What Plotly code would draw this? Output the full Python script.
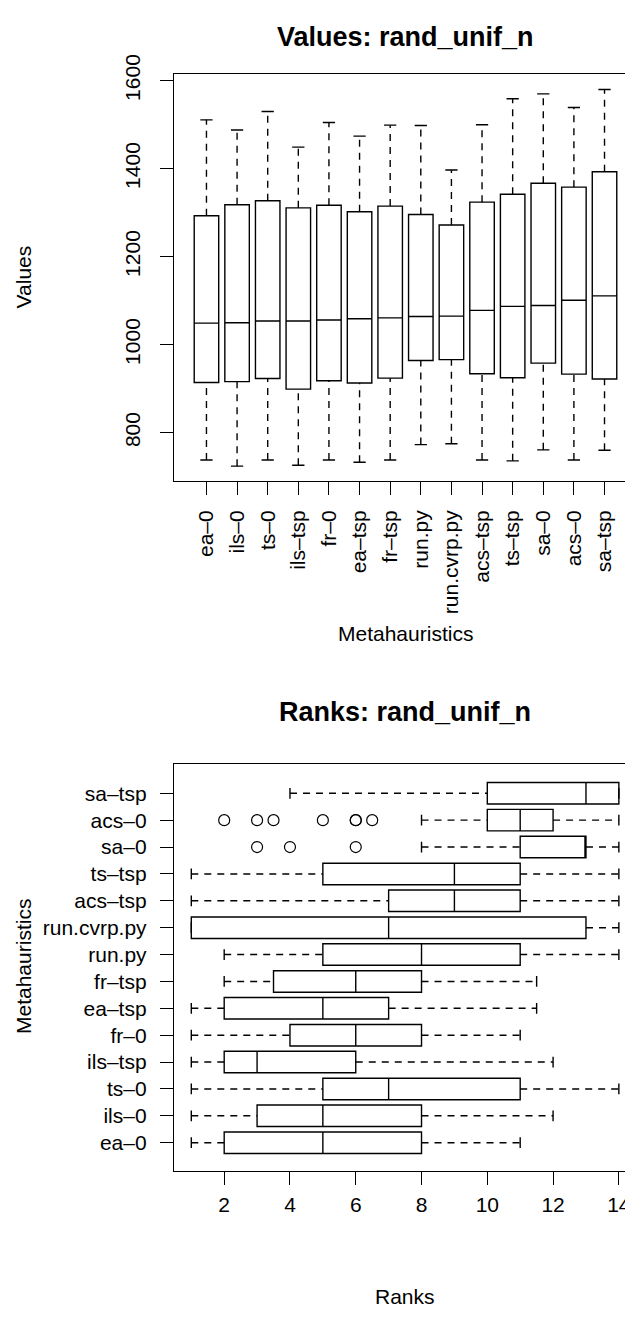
import plotly.graph_objects as go

# page is offset by the browser's default 8px body margin
OFF = 8
PAGE_W, PAGE_H = 633, 1337
W, H = PAGE_W - OFF, PAGE_H - OFF

methods = ["ea-0", "ils-0", "ts-0", "ils-tsp", "fr-0", "ea-tsp", "fr-tsp",
           "run.py", "run.cvrp.py", "acs-tsp", "ts-tsp", "sa-0", "acs-0", "sa-tsp"]

# Values panel
val_lower = [738, 724, 738, 726, 738, 733, 738, 773, 775, 738, 736, 761, 738, 760]
val_q1 = [914, 916, 923, 899, 918, 913, 924, 964, 966, 934, 925, 958, 933, 922]
val_median = [1049, 1050, 1054, 1054, 1056, 1059, 1061, 1064, 1065, 1078, 1087, 1089, 1101, 1111]
val_q3 = [1293, 1318, 1327, 1311, 1317, 1302, 1315, 1296, 1272, 1324, 1342, 1367, 1358, 1393]
val_upper = [1511, 1488, 1530, 1449, 1505, 1474, 1499, 1498, 1397, 1500, 1559, 1570, 1539, 1580]
val_ticks = [800, 1000, 1200, 1400, 1600]

# Ranks panel
rank_lower = [1, 1, 1, 1, 1, 1, 2, 2, 1, 1, 1, 8, 8, 4]
rank_q1 = [2, 3, 5, 2, 4, 2, 3.5, 5, 1, 7, 5, 11, 10, 10]
rank_median = [5, 5, 7, 3, 6, 5, 6, 8, 7, 9, 9, 13, 11, 13]
rank_q3 = [8, 8, 11, 6, 8, 7, 8, 11, 13, 11, 11, 13, 12, 14]
rank_upper = [11, 12, 14, 12, 11, 11.5, 11.5, 14, 14, 14, 14, 14, 14, 14]
outlier_method = ["acs-0"] * 7 + ["sa-0"] * 3
outlier_rank = [2, 3, 3.5, 5, 6, 6, 6.5, 3, 4, 6]
rank_ticks = [2, 4, 6, 8, 10, 12, 14]

labels = [m.replace("-", "\u2013") for m in methods]
pos = list(range(1, len(methods) + 1))
FONT = "Liberation Sans, Arial, Helvetica, sans-serif"
FS = 21
LW = 1.4
BOXW = 0.8
CAP = BOXW * 0.25


def whiskers(p, lo, q1, q3, hi):
    a, b = [], []
    for pp, l, s, t, h in zip(p, lo, q1, q3, hi):
        a += [pp, pp, None, pp, pp, None]
        b += [l, s, None, t, h, None]
    return a, b


def caps(p, lo, hi):
    a, b = [], []
    for pp, l, h in zip(p, lo, hi):
        a += [pp - CAP, pp + CAP, None, pp - CAP, pp + CAP, None]
        b += [l, l, None, h, h, None]
    return a, b


fig = go.Figure()

# ---- top: values ----
wx, wy = whiskers(pos, val_lower, val_q1, val_q3, val_upper)
fig.add_trace(go.Scatter(x=wx, y=wy, mode="lines", xaxis="x", yaxis="y",
                         line=dict(color="black", width=LW, dash="7px,6px"),
                         showlegend=False, hoverinfo="skip"))
cx, cy = caps(pos, val_lower, val_upper)
fig.add_trace(go.Scatter(x=cx, y=cy, mode="lines", xaxis="x", yaxis="y",
                         line=dict(color="black", width=LW),
                         showlegend=False, hoverinfo="skip"))
fig.add_trace(go.Box(x=pos, q1=val_q1, median=val_median, q3=val_q3,
                     lowerfence=val_q1, upperfence=val_q3, width=BOXW,
                     whiskerwidth=0, fillcolor="rgba(0,0,0,0)",
                     line=dict(color="black", width=LW), xaxis="x", yaxis="y",
                     showlegend=False, hoverinfo="skip", boxpoints=False))

# ---- bottom: ranks ----
wx, wy = whiskers(pos, rank_lower, rank_q1, rank_q3, rank_upper)
fig.add_trace(go.Scatter(x=wy, y=wx, mode="lines", xaxis="x2", yaxis="y2",
                         line=dict(color="black", width=LW, dash="7px,6px"),
                         showlegend=False, hoverinfo="skip"))
cx, cy = caps(pos, rank_lower, rank_upper)
fig.add_trace(go.Scatter(x=cy, y=cx, mode="lines", xaxis="x2", yaxis="y2",
                         line=dict(color="black", width=LW),
                         showlegend=False, hoverinfo="skip"))
fig.add_trace(go.Box(y=pos, q1=rank_q1, median=rank_median, q3=rank_q3,
                     lowerfence=rank_q1, upperfence=rank_q3, width=BOXW,
                     orientation="h", whiskerwidth=0, fillcolor="rgba(0,0,0,0)",
                     line=dict(color="black", width=LW), xaxis="x2", yaxis="y2",
                     showlegend=False, hoverinfo="skip", boxpoints=False))
fig.add_trace(go.Scatter(x=outlier_rank, y=[methods.index(m) + 1 for m in outlier_method],
                         mode="markers", xaxis="x2", yaxis="y2",
                         marker=dict(symbol="circle-open", size=11, color="black",
                                     line=dict(width=1.2, color="black")),
                         showlegend=False, hoverinfo="skip"))


def fx(px):
    return (px - OFF) / W


def fy(py):
    return 1 - (py - OFF) / H


axis_common = dict(showline=True, linecolor="black", linewidth=LW, ticks="outside",
                   ticklen=13, tickwidth=LW, tickcolor="black", showgrid=False,
                   zeroline=False, tickfont=dict(family=FONT, size=FS, color="black"),
                   automargin=False, fixedrange=True)

fig.update_layout(
    width=W, height=H, margin=dict(l=0, r=0, t=0, b=0),
    paper_bgcolor="white", plot_bgcolor="white",
    font=dict(family=FONT, color="black"),
    boxmode="overlay",
    xaxis=dict(domain=[fx(174), 1], range=[-0.06, 14.93], anchor="y",
               tickmode="array", tickvals=pos, ticktext=labels, tickangle=-90,
               mirror=True, ticklabelstandoff=7, **axis_common),
    yaxis=dict(domain=[fy(480.7), fy(74)], range=[690.9, 1615.2], anchor="x",
               tickmode="array", tickvals=val_ticks, tickangle=-90,
               mirror=False, ticklabelstandoff=11, **axis_common),
    xaxis2=dict(domain=[fx(174), 1], range=[0.474, 14.43], anchor="y2",
                tickmode="array", tickvals=rank_ticks,
                mirror=True, ticklabelstandoff=2, **axis_common),
    yaxis2=dict(domain=[fy(1170.7), fy(764)], range=[-0.042, 15.09], anchor="x2",
                tickmode="array", tickvals=pos, ticktext=labels,
                mirror=False, ticklabelstandoff=9, **axis_common),
)


def ann(text, px, py, size=FS, bold=False, angle=0):
    fig.add_annotation(text=f"<b>{text}</b>" if bold else text,
                       x=fx(px), y=fy(py), xref="paper", yref="paper",
                       xanchor="center", yanchor="middle", showarrow=False,
                       textangle=angle, font=dict(family=FONT, size=size, color="black"))


ann("Values: rand_unif_n", 405, 37, size=27, bold=True)
ann("Values", 23, 277.4, angle=-90)
ann("Metahauristics", 405, 633)
ann("Ranks: rand_unif_n", 405, 712, size=27, bold=True)
ann("Metahauristics", 23, 967, angle=-90)
ann("Ranks", 405, 1296)

fig.write_html("out.html")
